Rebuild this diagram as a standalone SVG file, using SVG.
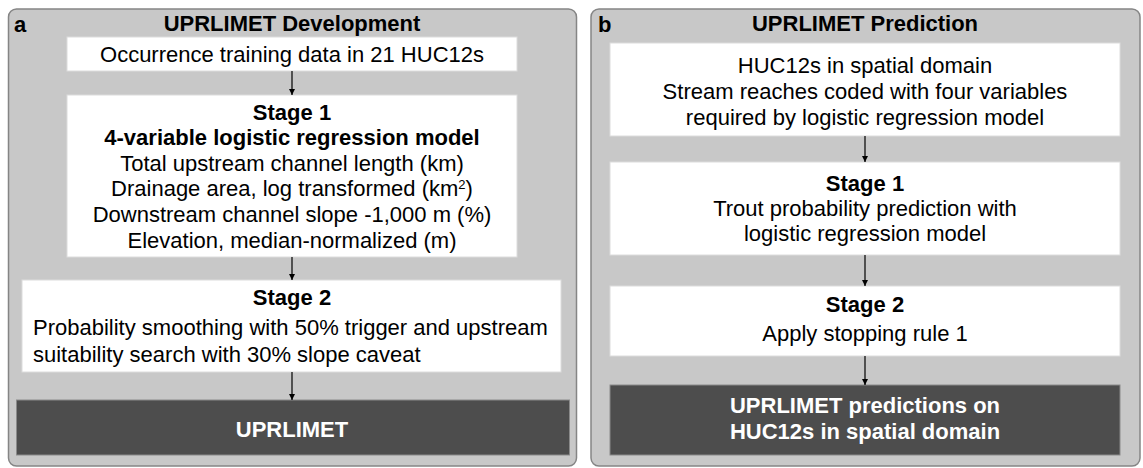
<svg xmlns="http://www.w3.org/2000/svg" width="1143" height="468" viewBox="0 0 1143 468">
<style>
  .panel{fill:#c8c8c8;stroke:#858585;stroke-width:1.5}
  .box{fill:#ffffff;stroke:#dcdcdc;stroke-width:1}
  .dark{fill:#4d4d4d;stroke:#8a8a8a;stroke-width:1}
  text{font-family:"Liberation Sans",Arial,sans-serif;font-size:22px;fill:#000}
  .b{font-weight:bold}
  .c{text-anchor:middle}
  .w{fill:#ffffff;font-weight:bold}
  .conn{stroke:#000;stroke-width:1.2;fill:none;marker-end:url(#ah)}
</style>
<defs>
  <marker id="ah" viewBox="0 0 10 10" refX="10" refY="5" markerWidth="7" markerHeight="6" markerUnits="userSpaceOnUse" orient="auto">
    <path d="M0,0 L10,5 L0,10 z" fill="#000"/>
  </marker>
</defs>

<g id="panel-a">
  <rect class="panel" x="8.5" y="9" width="568" height="457" rx="8"/>
  <text class="b" x="14" y="32">a</text>
  <text class="b c" x="292" y="31">UPRLIMET Development</text>
</g>
<g id="panel-b">
  <rect class="panel" x="591" y="9" width="549" height="457" rx="8"/>
  <text class="b" x="598" y="32">b</text>
  <text class="b c" x="865" y="31">UPRLIMET Prediction</text>
</g>

<g id="a-training">
  <rect class="box" x="67" y="37" width="450" height="34"/>
  <text class="c" x="292" y="62">Occurrence training data in 21 HUC12s</text>
</g>
<g id="a-stage1">
  <rect class="box" x="67" y="95" width="450" height="162"/>
  <text class="b c" x="292" y="120">Stage 1</text>
  <text class="b c" x="292" y="145">4-variable logistic regression model</text>
  <text class="c" x="292" y="171">Total upstream channel length (km)</text>
  <text class="c" x="292" y="196">Drainage area, log transformed (km<tspan font-size="13" dy="-7">2</tspan><tspan dy="7">)</tspan></text>
  <text class="c" x="292" y="222">Downstream channel slope -1,000 m (%)</text>
  <text class="c" x="292" y="248">Elevation, median-normalized (m)</text>
</g>
<g id="a-stage2">
  <rect class="box" x="22" y="280" width="539" height="92"/>
  <text class="b c" x="292" y="305">Stage 2</text>
  <text x="33" y="335">Probability smoothing with 50% trigger and upstream</text>
  <text x="33" y="362">suitability search with 30% slope caveat</text>
</g>
<g id="a-uprlimet">
  <rect class="dark" x="16.5" y="400" width="553" height="55"/>
  <text class="w c" x="292" y="437">UPRLIMET</text>
</g>

<g id="b-domain">
  <rect class="box" x="610" y="43" width="510" height="93"/>
  <text class="c" x="865" y="73">HUC12s in spatial domain</text>
  <text class="c" x="865" y="99">Stream reaches coded with four variables</text>
  <text class="c" x="865" y="125">required by logistic regression model</text>
</g>
<g id="b-stage1">
  <rect class="box" x="610" y="162" width="510" height="93"/>
  <text class="b c" x="865" y="191">Stage 1</text>
  <text class="c" x="865" y="216">Trout probability prediction with</text>
  <text class="c" x="865" y="241">logistic regression model</text>
</g>
<g id="b-stage2">
  <rect class="box" x="610" y="286" width="510" height="70"/>
  <text class="b c" x="865" y="312">Stage 2</text>
  <text class="c" x="865" y="341">Apply stopping rule 1</text>
</g>
<g id="b-predictions">
  <rect class="dark" x="610" y="385" width="510" height="70"/>
  <text class="w c" x="865" y="413">UPRLIMET predictions on</text>
  <text class="w c" x="865" y="439">HUC12s in spatial domain</text>
</g>

<g id="connectors">
  <line class="conn" x1="292" y1="71" x2="292" y2="95"/>
  <line class="conn" x1="292" y1="257" x2="292" y2="280"/>
  <line class="conn" x1="292" y1="372" x2="292" y2="400"/>
  <line class="conn" x1="865" y1="136" x2="865" y2="162"/>
  <line class="conn" x1="865" y1="255" x2="865" y2="286"/>
  <line class="conn" x1="865" y1="356" x2="865" y2="385"/>
</g>
</svg>
